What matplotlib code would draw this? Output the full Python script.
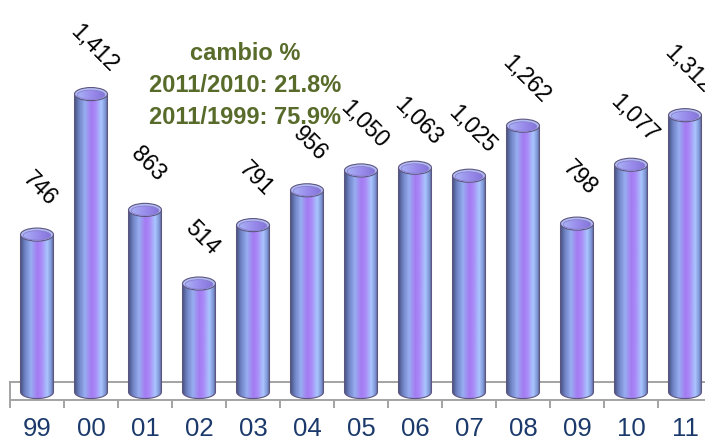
#!/usr/bin/env python3
"""Cylinder bar chart, 1999-2011, with rotated value labels."""
import numpy as np
import matplotlib
matplotlib.use("Agg")
import matplotlib.pyplot as plt
from matplotlib.colors import LinearSegmentedColormap
from matplotlib.patches import Ellipse, PathPatch
from matplotlib.path import Path

years = ["99", "00", "01", "02", "03", "04", "05", "06", "07", "08", "09", "10", "11"]
values = [746, 1412, 863, 514, 791, 956, 1050, 1063, 1025, 1262, 798, 1077, 1312]
value_labels = ["746", "1,412", "863", "514", "791", "956", "1,050", "1,063",
                "1,025", "1,262", "798", "1,077", "1,312"]
note_lines = ["cambio %", "2011/2010: 21.8%", "2011/1999: 75.9%"]

GREEN = "#586b2a"
NAVY = "#1b3a6b"
FLOOR = "#a3a3a3"
OUTLINE = "#5d5680"

plt.rcParams["font.family"] = ["Liberation Sans", "DejaVu Sans"]

side = LinearSegmentedColormap.from_list("side", [
    (0.0, "#4b5788"), (0.12, "#6f82c4"), (0.3, "#97aef0"), (0.5, "#a47af2"),
    (0.62, "#a98af6"), (0.8, "#a9c6ff"), (0.92, "#7f96d6"), (1.0, "#535d8c")])
lid = LinearSegmentedColormap.from_list("lid", ["#7f6fd6", "#9a8cec", "#a9b8f6"])

fig = plt.figure(figsize=(7.05, 4.44), dpi=100)
ax = fig.add_axes([0, 0, 1, 1])
ax.set_axis_off()

W = 0.61      # cylinder width (bar units)
B = 31        # ellipse half height (value units)
grad = np.linspace(0, 1, 256).reshape(1, -1)

# floor
n = len(values)
ax.plot([-0.5, n], [47, 47], color=FLOOR, lw=1.4, zorder=1)
ax.plot([-0.5, -0.5], [47, -38], color=FLOOR, lw=1.4, zorder=1)
ax.plot([-0.5, n], [-38, -38], color=FLOOR, lw=1.4, zorder=1)
for k in range(n + 1):
    ax.plot([k - 0.5, k - 0.5], [-38, -71], color=FLOOR, lw=1.4, zorder=1)

t_low = np.linspace(np.pi, 2 * np.pi, 40)
for i, v in enumerate(values):
    x0, x1 = i - W / 2, i + W / 2
    verts = [(x0, v), (x0, 0)]
    verts += list(zip(i + W / 2 * np.cos(t_low), B * np.sin(t_low)))
    verts += [(x1, 0), (x1, v), (x0, v)]
    clip = PathPatch(Path(verts), transform=ax.transData, facecolor="none",
                     edgecolor=OUTLINE, lw=0.8, zorder=3)
    im = ax.imshow(grad, cmap=side, extent=(x0, x1, -B, v), aspect="auto",
                   zorder=2, interpolation="bilinear")
    im.set_clip_path(clip)
    ax.add_patch(clip)
    # open top of the tube
    ax.add_patch(Ellipse((i, v), W, 2 * B, facecolor="#b3bcf2",
                         edgecolor=OUTLINE, lw=0.8, zorder=4))
    inner = Ellipse((i, v - B * 0.12), W * 0.84, 2 * B * 0.72, facecolor="none",
                    edgecolor="#8a7fd0", lw=0.6, zorder=6)
    ax.add_patch(inner)
    lid_im = ax.imshow(grad[:, ::-1], cmap=lid,
                       extent=(i - W / 2, i + W / 2, v - B, v + B),
                       aspect="auto", zorder=5)
    lid_im.set_clip_path(inner)

    ax.annotate(value_labels[i], xy=(i, v), xytext=(3, 46),
                textcoords="offset pixels", ha="center", va="center",
                rotation=-45, fontsize=16.5, color="black", zorder=7)
    ax.text(i, -176, years[i], ha="center", va="center",
            fontsize=18.5, color=NAVY)

for k, line in enumerate(note_lines):
    fig.text(245 / 705, 1 - (54 + 32 * k) / 444, line, ha="center", va="center",
             fontsize=17, fontweight="bold", color=GREEN)

ax.set_xlim(-37 / 54, (705 - 37) / 54)
ax.set_ylim(-52 / 0.211, 392 / 0.211)

fig.savefig("out.png", dpi=100)
